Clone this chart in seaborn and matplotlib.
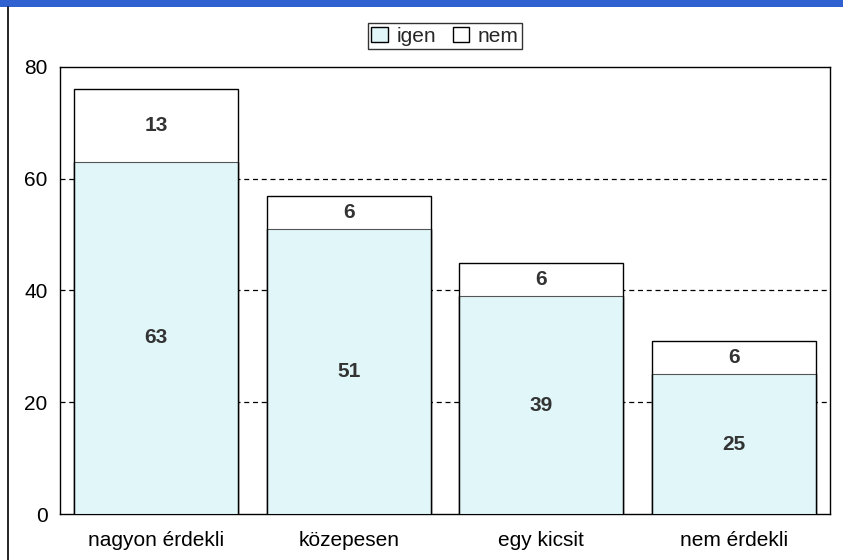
import matplotlib
matplotlib.use("Agg")
import matplotlib.pyplot as plt
from matplotlib.patches import Patch, Rectangle
from matplotlib.lines import Line2D
import seaborn as sns
import pandas as pd

# Data
categories = ["nagyon érdekli", "közepesen", "egy kicsit", "nem érdekli"]
igen = [63, 51, 39, 25]
nem = [13, 6, 6, 6]

igen_color = "#e0f6f8"
nem_color = "#ffffff"

sns.set_style("white")
plt.rcParams["font.family"] = ["Liberation Sans", "DejaVu Sans"]

df = pd.DataFrame({"kategoria": categories, "igen": igen, "nem": nem})
df["osszes"] = df["igen"] + df["nem"]

fig = plt.figure(figsize=(8.43, 5.60), dpi=100)
ax = fig.add_axes([60 / 843, 46 / 560, 770 / 843, 447 / 560])

# Stacked bars: total (white) first, then igen on top
sns.barplot(data=df, x="kategoria", y="osszes", color=nem_color, width=0.85,
            edgecolor="black", linewidth=1.0, saturation=1, ax=ax, zorder=2)
sns.barplot(data=df, x="kategoria", y="igen", color=igen_color, width=0.85,
            edgecolor="#555555", linewidth=0.8, saturation=1, ax=ax, zorder=3)

# black outline on the sides of the igen bars
for p in ax.patches[len(categories):]:
    x0 = p.get_x()
    w = p.get_width()
    h = p.get_height()
    ax.plot([x0, x0], [0, h], color="black", lw=1.0, zorder=4)
    ax.plot([x0 + w, x0 + w], [0, h], color="black", lw=1.0, zorder=4)

# Value labels
for i, (a, b) in enumerate(zip(igen, nem)):
    ax.text(i, a / 2, str(a), ha="center", va="center", fontsize=15,
            fontweight="bold", color="#333333", zorder=5)
    ax.text(i, a + b / 2, str(b), ha="center", va="center", fontsize=15,
            fontweight="bold", color="#333333", zorder=5)

ax.set_ylim(0, 80)
ax.set_xlim(-0.5, 3.5)
ax.set_yticks([0, 20, 40, 60, 80])
for yv in [20, 40, 60]:
    ax.axhline(yv, color="black", lw=0.9, ls=(0, (4, 3)), zorder=1)
ax.set_xlabel("")
ax.set_ylabel("")
ax.tick_params(axis="both", labelsize=15, length=0, colors="black")
ax.tick_params(axis="y", pad=9)
ax.tick_params(axis="x", pad=12)
for s in ax.spines.values():
    s.set_color("black")
    s.set_linewidth(1.0)

handles = [Patch(facecolor=igen_color, edgecolor="black", label="igen"),
           Patch(facecolor=nem_color, edgecolor="black", label="nem")]
leg = fig.legend(handles=handles, loc="center", bbox_to_anchor=(445 / 843, 1 - 36 / 560),
                 ncol=2, frameon=True, fontsize=15, handlelength=0.8, handleheight=0.7,
                 handletextpad=0.4, columnspacing=0.8, borderpad=0.15, borderaxespad=0,
                 fancybox=False)
leg.get_frame().set_edgecolor("black")
leg.get_frame().set_linewidth(1.0)

# Blue band at the top and left frame line
fig.patches.append(Rectangle((0, 1 - 7 / 560), 1, 7 / 560, transform=fig.transFigure,
                             facecolor="#2f62d0", edgecolor="none"))
fig.lines.append(Line2D([8 / 843, 8 / 843], [0, 1 - 7 / 560], transform=fig.transFigure,
                        color="black", lw=1.2))

fig.savefig("out.png", dpi=100)
